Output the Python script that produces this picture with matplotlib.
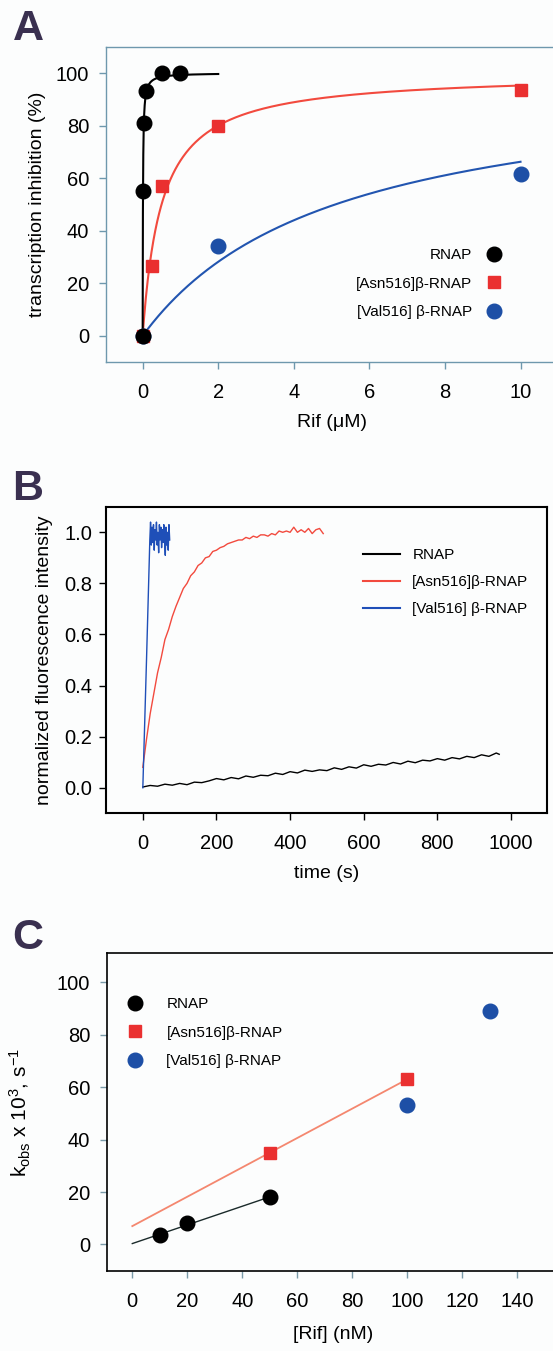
import numpy as np
import matplotlib
matplotlib.use('Agg')
import matplotlib.pyplot as plt

plt.rcParams['font.family'] = ['Liberation Sans', 'DejaVu Sans']
plt.rcParams['mathtext.fontset'] = 'custom'
plt.rcParams['mathtext.rm'] = 'Liberation Sans'
plt.rcParams['mathtext.it'] = 'Liberation Sans:italic'

# ─────────────────────────────────────────
# DATA
# ─────────────────────────────────────────
series_names = ['RNAP', '[Asn516]β-RNAP', '[Val516] β-RNAP']

# panel A : transcription inhibition vs Rif (uM)
rnap_conc = [0, 0.01, 0.025, 0.1, 0.5, 1.0]
rnap_inhib = [0, 55, 81, 93, 100, 100]
asn_conc = [0, 0.25, 0.5, 2, 10]
asn_inhib = [0, 26.5, 57, 80, 93.5]
val_conc = [0, 2, 10]
val_inhib = [0, 34, 61.5]
# hyperbolic fits: IC50 (uM) and extent of drawn fit
ic50 = {'rnap': 0.0075, 'asn': 0.5, 'val': 5.1}
fit_end = {'rnap': 2, 'asn': 10, 'val': 10}

# panel B : fluorescence traces
rnap_time = [0, 20, 40, 60, 80, 100, 120, 140, 160, 180, 200, 220, 240, 260,
             280, 300, 320, 340, 360, 380, 400, 420, 440, 460, 480, 500, 520,
             540, 560, 580, 600, 620, 640, 660, 680, 700, 720, 740, 760, 780,
             800, 820, 840, 860, 880, 900, 920, 940, 960, 968]
rnap_fluo = [0.003, 0.009, 0.006, 0.014, 0.010, 0.017, 0.012, 0.022, 0.020,
             0.027, 0.036, 0.031, 0.040, 0.035, 0.046, 0.041, 0.049, 0.047,
             0.057, 0.052, 0.063, 0.058, 0.069, 0.064, 0.070, 0.067, 0.078,
             0.072, 0.082, 0.077, 0.090, 0.084, 0.092, 0.089, 0.099, 0.093,
             0.104, 0.098, 0.108, 0.105, 0.114, 0.108, 0.118, 0.113, 0.123,
             0.118, 0.129, 0.123, 0.136, 0.131]
asn_time = [0, 10, 20, 30, 40, 50, 60, 70, 80, 90, 100, 110, 120, 130, 140,
            150, 160, 170, 180, 190, 200, 210, 220, 230, 240, 250, 260, 270,
            280, 290, 300, 310, 320, 330, 340, 350, 360, 370, 380, 390, 400,
            410, 420, 430, 440, 450, 460, 470, 480, 490]
asn_fluo = [0.08, 0.19, 0.29, 0.37, 0.45, 0.51, 0.58, 0.62, 0.67, 0.71, 0.745,
            0.78, 0.80, 0.83, 0.845, 0.87, 0.88, 0.90, 0.905, 0.925, 0.93,
            0.94, 0.945, 0.955, 0.96, 0.965, 0.97, 0.97, 0.98, 0.975, 0.985,
            0.98, 0.99, 0.99, 0.985, 0.995, 0.99, 1.005, 1.00, 1.005, 1.00,
            1.02, 1.00, 1.01, 1.00, 1.015, 0.995, 1.01, 1.015, 0.995]
val_time = [0, 5, 10, 15, 19, 21, 23, 25, 27, 29, 31, 33, 35, 37, 39, 41, 43,
            45, 47, 49, 51, 53, 55, 57, 59, 61, 63, 65, 67, 69, 71, 73]
val_fluo = [0.0, 0.25, 0.50, 0.76, 0.97, 1.04, 0.95, 1.02, 0.96, 1.03, 0.93,
            1.01, 0.97, 1.04, 0.95, 1.00, 0.92, 1.03, 0.97, 1.02, 0.94, 1.01,
            0.96, 1.03, 0.97, 0.91, 1.02, 0.95, 1.00, 0.93, 1.03, 0.97]

# panel C : kobs vs [Rif] (nM)
rnap_rif = [10, 20, 50]
rnap_kobs = [3.5, 8, 18]
asn_rif = [50, 100]
asn_kobs = [35, 63]
val_rif = [100, 130]
val_kobs = [53, 89]

# ─────────────────────────────────────────
# STYLE
# ─────────────────────────────────────────
BG = '#fcfdfd'
RED = '#ea3030'
RED_LINE = '#f24a3e'
RED_LIGHT = '#f4876f'
BLUE = '#1d4fa6'
BLUE_LINE = '#2255b0'
FRAME_A = '#6e98ad'
LABEL_COL = '#3a3050'
TICK_FS = 14.5
LAB_FS = 14
LEG_FS = 11

fig = plt.figure(figsize=(5.53, 13.51), dpi=100, facecolor=BG)


def style_axes(ax, frame_col, frame_lw, tick_col):
    ax.set_facecolor(BG)
    for side in ['left', 'top', 'bottom', 'right']:
        ax.spines[side].set_color(frame_col)
        ax.spines[side].set_linewidth(frame_lw)
    ax.tick_params(direction='out', length=5, width=1, colors=tick_col,
                   labelsize=TICK_FS, labelcolor='black')
    ax.tick_params(axis='x', pad=10)
    ax.tick_params(axis='y', pad=7)


# ─────────────────────────────────────────
# PANEL A
# ─────────────────────────────────────────
axA = fig.add_axes([0.1917, 0.7320, 0.8083, 0.2334])
style_axes(axA, FRAME_A, 1.0, FRAME_A)
axA.spines['right'].set_visible(False)

for key, col in [('val', BLUE_LINE), ('asn', RED_LINE), ('rnap', 'black')]:
    xx = np.linspace(0, fit_end[key], 600)
    axA.plot(xx, 100 * xx / (xx + ic50[key]), color=col, lw=1.5, zorder=2)

axA.plot(val_conc, val_inhib, 'o', color=BLUE, ms=10.5, mec=BLUE,
         label=series_names[2], zorder=3)
axA.plot(asn_conc, asn_inhib, 's', color=RED, ms=9, mec=RED,
         label=series_names[1], zorder=3)
axA.plot(rnap_conc, rnap_inhib, 'o', color='black', ms=10.5,
         label=series_names[0], zorder=4)

axA.set_xlim(-0.97, 10.86)
axA.set_ylim(-10, 110)
axA.set_xticks([0, 2, 4, 6, 8, 10])
axA.set_yticks([0, 20, 40, 60, 80, 100])
axA.set_xlabel('Rif (μM)', fontsize=LAB_FS)
axA.set_ylabel('transcription inhibition (%)', fontsize=LAB_FS)
axA.xaxis.set_label_coords(0.505, -0.165)
axA.yaxis.set_label_coords(-0.134, 0.5)

h, l = axA.get_legend_handles_labels()
axA.legend(h[::-1], l[::-1], loc='center right', bbox_to_anchor=(0.884, 0.249),
           frameon=False, markerfirst=False, fontsize=LEG_FS, handlelength=1.0,
           handletextpad=0.9, labelspacing=0.95, borderpad=0, borderaxespad=0)

# ─────────────────────────────────────────
# PANEL B
# ─────────────────────────────────────────
axB = fig.add_axes([0.1917, 0.3980, 0.7969, 0.2269])
style_axes(axB, 'black', 1.5, 'black')

axB.plot(rnap_time, rnap_fluo, color='black', lw=1.0, label=series_names[0])
axB.plot(asn_time, asn_fluo, color='#f24a3e', lw=1.0, label=series_names[1])
axB.plot(val_time, val_fluo, color='#1f4fb8', lw=1.0, label=series_names[2])

axB.set_xlim(-100, 1097)
axB.set_ylim(-0.1, 1.1)
axB.set_xticks([0, 200, 400, 600, 800, 1000])
axB.set_yticks([0, 0.2, 0.4, 0.6, 0.8, 1.0])
axB.set_yticklabels(['0.0', '0.2', '0.4', '0.6', '0.8', '1.0'])
axB.set_xlabel('time (s)', fontsize=LAB_FS)
axB.set_ylabel('normalized fluorescence intensity', fontsize=LAB_FS)
axB.xaxis.set_label_coords(0.5, -0.17)
axB.yaxis.set_label_coords(-0.12, 0.5)
axB.tick_params(axis='y', pad=5)

legB = axB.legend(loc='center left', bbox_to_anchor=(0.584, 0.754),
                  frameon=False, fontsize=LEG_FS, handlelength=2.4,
                  handletextpad=0.8, labelspacing=0.85, borderpad=0,
                  borderaxespad=0)
for line in legB.get_lines():
    line.set_linewidth(1.5)

# ─────────────────────────────────────────
# PANEL C
# ─────────────────────────────────────────
axC = fig.add_axes([0.1935, 0.05944, 0.8065, 0.2349])
style_axes(axC, 'black', 1.2, '#7a9aa8')
axC.spines['right'].set_visible(False)

kb = np.polyfit(rnap_rif, rnap_kobs, 1)
ka = np.polyfit(asn_rif, asn_kobs, 1)
xr = np.array([0, max(rnap_rif)])
xa = np.array([0, max(asn_rif)])
axC.plot(xr, np.polyval(kb, xr), color='#1a2a2a', lw=1.0, zorder=2)
axC.plot(xa, np.polyval(ka, xa), color=RED_LIGHT, lw=1.3, zorder=2)

axC.plot(rnap_rif, rnap_kobs, 'o', color='black', ms=10.5,
         label=series_names[0], zorder=3)
axC.plot(asn_rif, asn_kobs, 's', color=RED, ms=9, mec=RED,
         label=series_names[1], zorder=3)
axC.plot(val_rif, val_kobs, 'o', color=BLUE, ms=10.5, mec=BLUE,
         label=series_names[2], zorder=3)

axC.set_xlim(-9.2, 153)
axC.set_ylim(-10, 111)
axC.set_xticks([0, 20, 40, 60, 80, 100, 120, 140])
axC.set_yticks([0, 20, 40, 60, 80, 100])
axC.set_xlabel('[Rif] (nM)', fontsize=LAB_FS)
axC.set_ylabel(r'k$_{\mathrm{obs}}$ x 10$^{3}$, s$^{-1}$', fontsize=15)
axC.xaxis.set_label_coords(0.507, -0.175)
axC.yaxis.set_label_coords(-0.165, 0.5)

axC.legend(loc='center left', bbox_to_anchor=(0.046, 0.75), frameon=False,
           fontsize=LEG_FS, handlelength=1.0, handletextpad=1.55,
           labelspacing=0.95, borderpad=0, borderaxespad=0)

# panel letters
for letter, ypx in [('A', 29), ('B', 489), ('C', 938)]:
    fig.text(28 / 553, 1 - ypx / 1351, letter, fontsize=31, fontweight='bold',
             color=LABEL_COL, ha='center', va='center')

fig.savefig('out.png', dpi=100, facecolor=BG)
